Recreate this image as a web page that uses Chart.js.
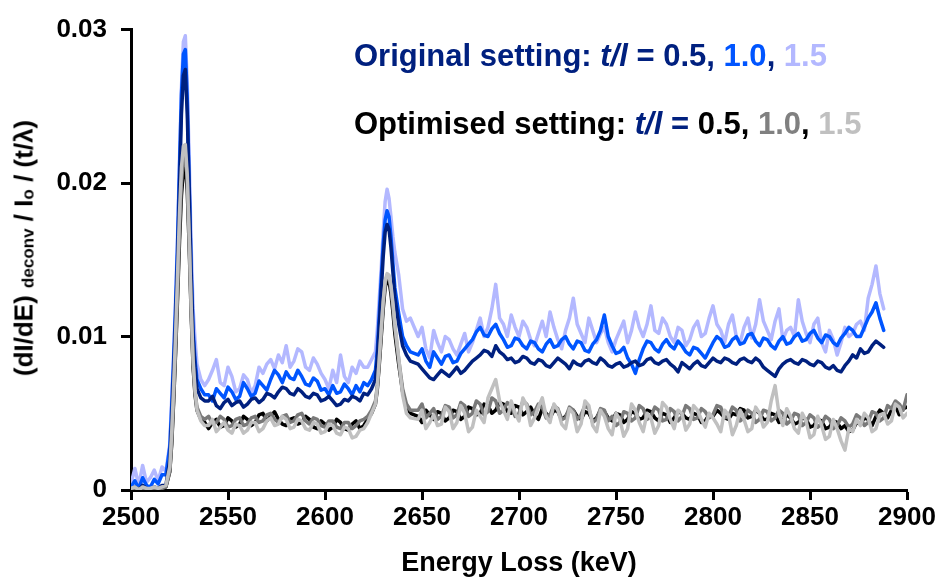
<!DOCTYPE html>
<html>
<head>
<meta charset="utf-8">
<script src="https://cdn.jsdelivr.net/npm/chart.js@4.4.1/dist/chart.umd.min.js"></script>
<style>
  html, body { margin:0; padding:0; background:#fff; }
  #wrap { position:relative; width:938px; height:577px; overflow:hidden; }
  canvas { position:absolute; left:0; top:0; }
  .leg { position:absolute; left:354px; font-family:'Liberation Sans', Arial, sans-serif; font-weight:bold; font-size:31px; line-height:31px; white-space:nowrap; }
  .leg i { font-style:italic; }
  #ylab { position:absolute; left:26px; top:248px; transform:translate(-50%,-50%) rotate(-90deg);
          font-family:'Liberation Sans', Arial, sans-serif; font-weight:bold; font-size:26px; line-height:26px; white-space:nowrap; color:#000; }
  #ylab .sub { font-size:17px; vertical-align:-1px; }
</style>
</head>
<body>
<div id="wrap">
  <canvas id="c" width="938" height="577"></canvas>
  <div class="leg" style="top:40px; color:#00207f;">Original setting: <i>t/l</i> = 0.5, <span style="color:#0055ff">1.0</span>, <span style="color:#b3b8ff">1.5</span></div>
  <div class="leg" style="top:108px; color:#000;">Optimised setting: <i style="color:#00207f">t/l</i> <span style="color:#00207f">=</span> 0.5, <span style="color:#808080">1.0</span>, <span style="color:#c0c0c0">1.5</span></div>
  <div id="ylab">(dI/dE) <span class="sub">deconv</span> / I<span class="sub">o</span> / (t/λ)</div>
</div>
<script>
// Energy loss (keV)
const energy = [
  2500,2502,2504,2506,2508,2510,2512,2514,2516,
  2518,2520,2521,2522,2523,2524,2525,2526,2527,2528,2529,2530,2531,2532,2533,2534,2536,2538,
  2540,2542,2544,2546,2548,2550,2552,2554,2556,2558,
  2560,2562,2564,2566,2568,2570,2572,2574,2576,2578,
  2580,2582,2584,2586,2588,2590,2592,2594,2596,2598,
  2600,2602,2604,2606,2608,2610,2612,2614,2616,2618,
  2620,
  2622,2624,2626,2627,2628,2629,2630,2631,2632,2633,2634,2635,2636,2638,2640,2642,2644,
  2648,2650,2652,2654,2656,2658,2660,2662,2664,2666,
  2668,2670,2672,2674,2676,2678,2680,2682,2684,2686,
  2688,2690,2692,2694,2696,2698,2700,2702,2704,2706,
  2708,2710,2712,2714,2716,2718,2720,2722,2724,2726,
  2728,2730,2732,2734,2736,2738,2740,2742,2744,2746,
  2748,2750,2752,2754,2756,2758,2760,2762,2764,2766,
  2768,2770,2772,2774,2776,2778,2780,2782,2784,2786,
  2788,2790,2792,2794,2796,2798,2800,2802,2804,2806,
  2808,2810,2812,2814,2816,2818,2820,2822,2824,2826,
  2828,2830,2832,2834,2836,2838,2840,2842,2844,2846,
  2848,2850,2852,2854,2856,2858,2860,2862,2864,2866,
  2868,2870,2872,2874,2876,2878,2880,2882,2884,2886,
  2888,2890,2892,2894,2896,2898,2900
];

// Original setting, t/l = 0.5
const orig05 = [
  0.0000,0.0002,0.0000,0.0003,0.0001,0.0000,0.0002,0.0001,0.0003,
  0.0003,0.0020,0.0045,0.0078,0.0112,0.0150,0.0198,0.0245,0.0270,0.0274,0.0245,0.0195,0.0140,0.0100,0.0080,0.0066,0.0060,0.0058,
  0.0058,0.0061,0.0055,0.0053,0.0057,0.0059,0.0055,0.0057,0.0058,0.0054,
  0.0056,0.0059,0.0060,0.0057,0.0059,0.0063,0.0062,0.0060,0.0064,0.0067,
  0.0066,0.0063,0.0062,0.0066,0.0064,0.0061,0.0060,0.0063,0.0062,0.0058,
  0.0059,0.0061,0.0058,0.0055,0.0056,0.0059,0.0058,0.0061,0.0060,0.0058,
  0.0063,
  0.0062,0.0066,0.0072,0.0086,0.0108,0.0130,0.0152,0.0168,0.0173,0.0170,0.0158,0.0142,0.0126,0.0108,0.0094,0.0088,0.0084,
  0.0082,0.0079,0.0076,0.0073,0.0072,0.0075,0.0078,0.0076,0.0074,0.0077,
  0.0080,0.0076,0.0078,0.0081,0.0084,0.0086,0.0088,0.0091,0.0090,0.0087,
  0.0094,0.0090,0.0088,0.0085,0.0086,0.0083,0.0084,0.0087,0.0086,0.0083,
  0.0082,0.0085,0.0084,0.0081,0.0080,0.0083,0.0086,0.0084,0.0082,0.0079,
  0.0084,0.0082,0.0081,0.0084,0.0085,0.0083,0.0082,0.0086,0.0084,0.0081,
  0.0080,0.0082,0.0083,0.0080,0.0081,0.0083,0.0084,0.0081,0.0082,0.0085,
  0.0086,0.0083,0.0082,0.0084,0.0085,0.0082,0.0080,0.0077,0.0083,0.0081,
  0.0079,0.0082,0.0084,0.0081,0.0080,0.0083,0.0086,0.0084,0.0083,0.0086,
  0.0085,0.0083,0.0082,0.0085,0.0086,0.0084,0.0083,0.0086,0.0084,0.0080,
  0.0078,0.0076,0.0074,0.0079,0.0082,0.0084,0.0085,0.0083,0.0082,0.0085,
  0.0084,0.0082,0.0081,0.0084,0.0083,0.0080,0.0079,0.0081,0.0078,0.0077,
  0.0081,0.0084,0.0088,0.0086,0.0092,0.0089,0.0090,0.0094,0.0097,0.0095,
  0.0093,null,null,null,null,null,null
];
// Original setting, t/l = 1.0
const orig10 = [
  0.0002,0.0006,0.0001,0.0008,0.0003,0.0002,0.0007,0.0004,0.0010,
  0.0010,0.0028,0.0055,0.0085,0.0120,0.0160,0.0210,0.0258,0.0284,0.0287,0.0255,0.0200,0.0145,0.0105,0.0085,0.0072,0.0066,0.0062,
  0.0062,0.0058,0.0066,0.0063,0.0060,0.0067,0.0064,0.0059,0.0061,0.0070,
  0.0066,0.0061,0.0063,0.0071,0.0068,0.0065,0.0072,0.0078,0.0075,0.0070,
  0.0077,0.0073,0.0072,0.0078,0.0074,0.0069,0.0068,0.0073,0.0071,0.0065,
  0.0066,0.0062,0.0068,0.0063,0.0064,0.0069,0.0066,0.0062,0.0068,0.0064,
  0.0070,
  0.0068,0.0072,0.0078,0.0092,0.0115,0.0138,0.0160,0.0176,0.0182,0.0178,0.0165,0.0148,0.0132,0.0115,0.0100,0.0094,0.0090,
  0.0088,0.0092,0.0084,0.0080,0.0090,0.0086,0.0082,0.0087,0.0088,0.0083,
  0.0084,0.0089,0.0092,0.0095,0.0098,0.0103,0.0106,0.0101,0.0100,0.0105,
  0.0108,0.0102,0.0098,0.0093,0.0094,0.0099,0.0098,0.0094,0.0092,0.0097,
  0.0096,0.0092,0.0090,0.0095,0.0098,0.0093,0.0094,0.0098,0.0100,0.0095,
  0.0092,0.0097,0.0096,0.0091,0.0090,0.0095,0.0098,0.0104,0.0114,0.0100,
  0.0094,0.0089,0.0090,0.0093,0.0086,0.0082,0.0076,0.0085,0.0092,0.0097,
  0.0096,0.0092,0.0090,0.0095,0.0098,0.0094,0.0092,0.0097,0.0094,0.0090,
  0.0088,0.0093,0.0092,0.0089,0.0086,0.0091,0.0096,0.0100,0.0098,0.0093,
  0.0094,0.0098,0.0100,0.0095,0.0096,0.0101,0.0102,0.0097,0.0094,0.0099,
  0.0098,0.0094,0.0092,0.0097,0.0100,0.0095,0.0096,0.0100,0.0102,0.0097,
  0.0098,0.0102,0.0104,0.0099,0.0096,0.0101,0.0100,0.0096,0.0094,0.0099,
  0.0102,0.0106,0.0104,0.0100,0.0100,0.0106,0.0112,0.0116,0.0122,0.0112,
  0.0104,null,null,null,null,null,null
];
// Original setting, t/l = 1.5
const orig15 = [
  0.0004,0.0014,0.0003,0.0016,0.0005,0.0008,0.0013,0.0006,0.0015,
  0.0012,0.0030,0.0060,0.0090,0.0125,0.0165,0.0215,0.0262,0.0292,0.0296,0.0265,0.0215,0.0160,0.0118,0.0098,0.0082,0.0072,0.0068,
  0.0072,0.0078,0.0085,0.0070,0.0068,0.0080,0.0074,0.0064,0.0066,0.0075,
  0.0072,0.0063,0.0068,0.0080,0.0076,0.0082,0.0085,0.0079,0.0088,0.0083,
  0.0094,0.0080,0.0084,0.0092,0.0090,0.0080,0.0078,0.0086,0.0082,0.0076,
  0.0072,0.0066,0.0078,0.0070,0.0088,0.0074,0.0070,0.0080,0.0076,0.0084,
  0.0080,
  0.0080,0.0085,0.0090,0.0105,0.0125,0.0145,0.0168,0.0188,0.0196,0.0190,0.0178,0.0165,0.0155,0.0140,0.0118,0.0110,0.0112,
  0.0100,0.0106,0.0092,0.0086,0.0104,0.0096,0.0090,0.0100,0.0098,0.0092,
  0.0088,0.0095,0.0102,0.0090,0.0096,0.0104,0.0112,0.0100,0.0106,0.0118,
  0.0134,0.0112,0.0108,0.0100,0.0114,0.0106,0.0100,0.0110,0.0106,0.0098,
  0.0094,0.0102,0.0110,0.0100,0.0116,0.0106,0.0098,0.0092,0.0104,0.0112,
  0.0125,0.0108,0.0102,0.0096,0.0112,0.0104,0.0096,0.0102,0.0106,0.0096,
  0.0090,0.0098,0.0104,0.0110,0.0096,0.0104,0.0116,0.0106,0.0100,0.0108,
  0.0120,0.0104,0.0102,0.0112,0.0108,0.0100,0.0096,0.0106,0.0104,0.0094,
  0.0098,0.0106,0.0110,0.0100,0.0102,0.0112,0.0120,0.0108,0.0104,0.0096,
  0.0108,0.0114,0.0100,0.0096,0.0106,0.0112,0.0099,0.0108,0.0124,0.0110,
  0.0104,0.0098,0.0110,0.0118,0.0098,0.0104,0.0106,0.0100,0.0124,0.0110,
  0.0102,0.0096,0.0108,0.0112,0.0096,0.0090,0.0104,0.0098,0.0088,0.0096,
  0.0106,0.0100,0.0102,0.0108,0.0110,0.0104,0.0125,0.0134,0.0146,0.0128,
  0.0118,null,null,null,null,null,null
];
// Optimised setting, t/l = 0.5
const opt05 = [
  0.0000,0.0001,0.0000,0.0001,0.0000,0.0000,0.0001,0.0000,0.0001,
  0.0002,0.0012,0.0030,0.0058,0.0090,0.0125,0.0162,0.0192,0.0208,0.0212,0.0195,0.0158,0.0115,0.0080,0.0062,0.0052,0.0046,0.0044,
  0.0040,0.0044,0.0046,0.0041,0.0042,0.0047,0.0045,0.0041,0.0043,0.0048,
  0.0046,0.0042,0.0044,0.0049,0.0050,0.0045,0.0048,0.0051,0.0046,0.0043,
  0.0042,0.0046,0.0047,0.0043,0.0044,0.0048,0.0046,0.0041,0.0040,0.0045,
  0.0043,0.0039,0.0041,0.0046,0.0044,0.0040,0.0039,0.0043,0.0045,0.0040,
  0.0042,
  0.0046,0.0050,0.0056,0.0066,0.0082,0.0100,0.0118,0.0132,0.0137,0.0136,0.0128,0.0116,0.0102,0.0082,0.0064,0.0054,0.0050,
  0.0048,0.0044,0.0052,0.0049,0.0046,0.0051,0.0050,0.0045,0.0047,0.0052,
  0.0051,0.0046,0.0048,0.0054,0.0053,0.0049,0.0050,0.0056,0.0055,0.0050,
  0.0052,0.0057,0.0056,0.0051,0.0050,0.0055,0.0054,0.0049,0.0051,0.0054,
  0.0049,0.0046,0.0053,0.0050,0.0047,0.0052,0.0051,0.0046,0.0048,0.0052,
  0.0052,0.0048,0.0046,0.0051,0.0050,0.0045,0.0047,0.0052,0.0051,0.0047,
  0.0045,0.0050,0.0049,0.0044,0.0046,0.0051,0.0050,0.0046,0.0047,0.0052,
  0.0051,0.0047,0.0045,0.0050,0.0049,0.0044,0.0047,0.0051,0.0050,0.0047,
  0.0046,0.0050,0.0049,0.0044,0.0045,0.0049,0.0048,0.0052,0.0050,0.0047,
  0.0046,0.0050,0.0049,0.0053,0.0052,0.0047,0.0048,0.0052,0.0050,0.0046,
  0.0046,0.0050,0.0049,0.0044,0.0045,0.0049,0.0047,0.0043,0.0044,0.0047,
  0.0046,0.0041,0.0042,0.0046,0.0045,0.0040,0.0041,0.0045,0.0044,0.0040,
  0.0042,0.0038,0.0039,0.0044,0.0043,0.0047,0.0046,0.0042,0.0048,0.0052,
  0.0050,0.0047,0.0052,0.0055,0.0049,0.0053,0.0054
];
// Optimised setting, t/l = 1.0
const opt10 = [
  0.0000,0.0001,0.0001,0.0000,0.0001,0.0000,0.0000,0.0001,0.0001,
  0.0002,0.0012,0.0032,0.0060,0.0092,0.0128,0.0168,0.0200,0.0216,0.0220,0.0202,0.0162,0.0118,0.0082,0.0064,0.0054,0.0048,0.0046,
  0.0048,0.0043,0.0044,0.0048,0.0046,0.0041,0.0042,0.0046,0.0047,0.0042,
  0.0043,0.0047,0.0048,0.0044,0.0045,0.0049,0.0050,0.0046,0.0044,0.0048,
  0.0049,0.0044,0.0045,0.0049,0.0050,0.0045,0.0043,0.0047,0.0046,0.0042,
  0.0041,0.0045,0.0045,0.0041,0.0040,0.0044,0.0044,0.0040,0.0042,0.0045,
  0.0046,
  0.0048,0.0052,0.0058,0.0068,0.0085,0.0104,0.0122,0.0135,0.0140,0.0139,0.0131,0.0120,0.0106,0.0085,0.0066,0.0056,0.0052,
  0.0052,0.0056,0.0047,0.0050,0.0053,0.0046,0.0048,0.0055,0.0054,0.0047,
  0.0049,0.0057,0.0055,0.0048,0.0050,0.0058,0.0056,0.0049,0.0051,0.0060,
  0.0058,0.0050,0.0052,0.0057,0.0055,0.0048,0.0050,0.0058,0.0056,0.0049,
  0.0051,0.0056,0.0054,0.0047,0.0049,0.0055,0.0053,0.0046,0.0047,0.0054,
  0.0052,0.0046,0.0049,0.0055,0.0053,0.0044,0.0046,0.0053,0.0052,0.0045,
  0.0048,0.0042,0.0044,0.0051,0.0050,0.0045,0.0047,0.0055,0.0053,0.0046,
  0.0048,0.0054,0.0052,0.0045,0.0046,0.0053,0.0051,0.0045,0.0048,0.0055,
  0.0053,0.0046,0.0047,0.0053,0.0051,0.0047,0.0049,0.0055,0.0054,0.0047,
  0.0048,0.0054,0.0052,0.0045,0.0047,0.0052,0.0050,0.0044,0.0046,0.0052,
  0.0051,0.0045,0.0047,0.0052,0.0050,0.0043,0.0045,0.0050,0.0049,0.0042,
  0.0044,0.0049,0.0047,0.0041,0.0043,0.0048,0.0046,0.0040,0.0042,0.0047,
  0.0045,0.0041,0.0043,0.0049,0.0047,0.0042,0.0044,0.0051,0.0050,0.0045,
  0.0047,0.0055,0.0053,0.0058,0.0056,0.0052,0.0062
];
// Optimised setting, t/l = 1.5
const opt15 = [
  0.0001,0.0002,0.0000,0.0002,0.0001,0.0001,0.0002,0.0001,0.0002,
  0.0003,0.0015,0.0038,0.0068,0.0102,0.0140,0.0180,0.0210,0.0224,0.0225,0.0205,0.0165,0.0120,0.0085,0.0065,0.0052,0.0045,0.0042,
  0.0042,0.0046,0.0038,0.0041,0.0044,0.0039,0.0037,0.0043,0.0042,0.0037,
  0.0039,0.0044,0.0044,0.0038,0.0040,0.0045,0.0047,0.0042,0.0043,0.0048,
  0.0046,0.0040,0.0041,0.0046,0.0045,0.0040,0.0039,0.0044,0.0043,0.0037,
  0.0038,0.0043,0.0042,0.0037,0.0036,0.0041,0.0040,0.0034,0.0035,0.0039,
  0.0040,
  0.0044,0.0050,0.0056,0.0068,0.0086,0.0105,0.0123,0.0136,0.0141,0.0140,0.0133,0.0122,0.0108,0.0086,0.0062,0.0050,0.0047,
  0.0046,0.0052,0.0040,0.0044,0.0049,0.0042,0.0043,0.0054,0.0051,0.0040,
  0.0044,0.0055,0.0050,0.0038,0.0041,0.0052,0.0048,0.0044,0.0060,0.0066,
  0.0072,0.0058,0.0052,0.0046,0.0058,0.0050,0.0045,0.0060,0.0055,0.0042,
  0.0047,0.0054,0.0060,0.0048,0.0044,0.0056,0.0052,0.0043,0.0040,0.0053,
  0.0050,0.0038,0.0043,0.0058,0.0055,0.0042,0.0038,0.0052,0.0048,0.0040,
  0.0036,0.0050,0.0046,0.0035,0.0040,0.0056,0.0052,0.0044,0.0038,0.0050,
  0.0047,0.0037,0.0042,0.0057,0.0054,0.0046,0.0040,0.0052,0.0050,0.0039,
  0.0043,0.0055,0.0052,0.0046,0.0041,0.0050,0.0047,0.0043,0.0038,0.0052,
  0.0049,0.0036,0.0042,0.0052,0.0046,0.0038,0.0040,0.0054,0.0050,0.0041,
  0.0044,0.0058,0.0068,0.0050,0.0042,0.0053,0.0048,0.0040,0.0037,0.0050,
  0.0045,0.0034,0.0036,0.0048,0.0042,0.0033,0.0035,0.0046,0.0040,0.0032,
  0.0026,0.0040,0.0038,0.0046,0.0042,0.0050,0.0047,0.0038,0.0040,0.0049,
  0.0050,0.0043,0.0045,0.0056,0.0054,0.0047,0.0050
];

const xTicks = [2500,2550,2600,2650,2700,2750,2800,2850,2900];
const yTicks = [0,0.01,0.02,0.03];

const FONT = "'Liberation Sans', Arial, sans-serif";
function pts(arr){ return energy.map((e,i)=>({x:e, y:(arr[i] === undefined ? null : arr[i])})); }
function ds(label, arr, color, order){
  return { label, data: pts(arr), borderColor: color, backgroundColor: color, borderWidth: 3.5,
           pointRadius: 0, tension: 0, fill: false, order, spanGaps: false, borderJoinStyle: 'round', borderCapStyle:'round' };
}

new Chart(document.getElementById('c'), {
  type: 'line',
  data: {
    datasets: [
      ds('Optimised t/l = 1.5', opt15, '#c0c0c0', 1),
      ds('Optimised t/l = 1.0', opt10, '#7a7a7a', 2),
      ds('Optimised t/l = 0.5', opt05, '#000000', 3),
      ds('Original t/l = 0.5', orig05, '#00207f', 4),
      ds('Original t/l = 1.0', orig10, '#0055ff', 5),
      ds('Original t/l = 1.5', orig15, '#b3b8ff', 6)
    ]
  },
  options: {
    responsive: false,
    animation: false,
    devicePixelRatio: 1,
    layout: { padding: { top: 24, right: 31, left: 0, bottom: 0 } },
    plugins: { legend: { display: false }, tooltip: { enabled: false }, title: { display: false } },
    scales: {
      x: {
        type: 'linear', min: 2500, max: 2900,
        afterBuildTicks: s => { s.ticks = xTicks.map(v => ({ value: v })); },
        ticks: { color: '#000', font: { family: FONT, size: 26, weight: 'bold' }, padding: 2, maxRotation: 0, autoSkip: false,
                 callback: v => String(v) },
        grid: { display: true, drawOnChartArea: false, drawTicks: true, tickLength: 10, tickWidth: 3, tickColor: '#000', color: '#000' },
        border: { display: true, color: '#000', width: 3 },
        title: { display: true, text: 'Energy Loss (keV)', color: '#000', font: { family: FONT, size: 27, weight: 'bold', lineHeight: 1 }, padding: 0 },
        afterFit: s => { s.height = 87; }
      },
      y: {
        min: 0, max: 0.03,
        afterBuildTicks: s => { s.ticks = yTicks.map(v => ({ value: v })); },
        ticks: { color: '#000', font: { family: FONT, size: 26, weight: 'bold' }, padding: 14,
                 callback: v => (v === 0 ? '0' : Number(v).toFixed(2)) },
        grid: { display: true, drawOnChartArea: false, drawTicks: true, tickLength: 10, tickWidth: 3, tickColor: '#000', color: '#000' },
        border: { display: true, color: '#000', width: 3 },
        afterFit: s => { s.width = 131; }
      }
    }
  }
});
</script>
</body>
</html>
